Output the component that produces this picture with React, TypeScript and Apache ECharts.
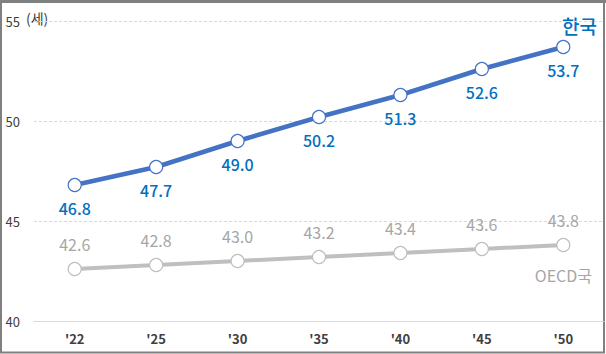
import React, { useEffect, useRef } from "react";
import * as echarts from "echarts";

const categories = ["'22", "'25", "'30", "'35", "'40", "'45", "'50"];
const korea = [46.8, 47.7, 49.0, 50.2, 51.3, 52.6, 53.7];
const oecd = [42.6, 42.8, 43.0, 43.2, 43.4, 43.6, 43.8];
const yTicks = { min: 40, max: 55, interval: 5 };
const koreaName = "한국";
const oecdName = "OECD국";
const unitLabel = "(세)";

const FONT = "'Noto Sans CJK KR', 'Noto Sans', sans-serif";

export default function App() {
  const ref = useRef<HTMLDivElement>(null);
  useEffect(() => {
    document.body.style.margin = "0";
    const chart = echarts.init(ref.current!, null, { renderer: "svg" });
    chart.setOption({
      animation: false,
      backgroundColor: "#ffffff",
      textStyle: { fontFamily: FONT },
      grid: { left: 34, right: 2, top: 21, bottom: 33 },
      xAxis: {
        type: "category",
        data: categories,
        boundaryGap: true,
        axisLine: { show: true, lineStyle: { color: "#D9D9D9", width: 1 } },
        axisTick: { show: false },
        axisLabel: { color: "#404040", fontSize: 13, fontWeight: "bold", margin: 11, fontFamily: FONT },
        splitLine: { show: false },
      },
      yAxis: {
        type: "value",
        min: yTicks.min,
        max: yTicks.max,
        interval: yTicks.interval,
        axisLine: { show: false },
        axisTick: { show: false },
        axisLabel: { color: "#404040", fontSize: 13, margin: 14, fontFamily: FONT },
        splitLine: { show: true, lineStyle: { color: "#D9D9D9", type: [3, 2], width: 1 } },
      },
      series: [
        {
          name: oecdName,
          type: "line",
          data: oecd,
          symbol: "circle",
          symbolSize: 13,
          lineStyle: { color: "#BFBFBF", width: 4 },
          itemStyle: { color: "#ffffff", borderColor: "#BFBFBF", borderWidth: 1.2 },
          label: {
            show: true,
            position: "top",
            distance: 10,
            color: "#A6A6A6",
            fontSize: 16,
            fontFamily: FONT,
            formatter: (p: any) => p.value.toFixed(1),
          },
          z: 2,
        },
        {
          name: koreaName,
          type: "line",
          data: korea,
          symbol: "circle",
          symbolSize: 13,
          lineStyle: { color: "#4472C4", width: 4.5 },
          itemStyle: { color: "#ffffff", borderColor: "#4472C4", borderWidth: 1.2 },
          label: {
            show: true,
            position: "bottom",
            distance: 8,
            color: "#0070C0",
            fontSize: 16,
            fontWeight: 500,
            fontFamily: FONT,
            formatter: (p: any) => p.value.toFixed(1),
          },
          z: 3,
        },
      ],
      graphic: [
        {
          type: "text",
          left: 26,
          top: 11,
          style: { text: unitLabel, fill: "#404040", font: `14px ${FONT}` },
        },
        {
          type: "text",
          right: 9,
          top: 16,
          style: { text: koreaName, fill: "#0070C0", font: `500 19px ${FONT}` },
        },
        {
          type: "text",
          right: 14,
          top: 267,
          style: { text: oecdName, fill: "#A6A6A6", font: `16px ${FONT}` },
        },
        {
          type: "rect",
          shape: { x: 1, y: 1.5, width: 603, height: 351 },
          style: { fill: "none", stroke: "#808080", lineWidth: 2 },
          silent: true,
        },
        {
          type: "rect",
          shape: { x: 0, y: 0, width: 606, height: 3 },
          style: { fill: "#808080" },
          silent: true,
        },
      ],
    });
    return () => chart.dispose();
  }, []);
  return <div ref={ref} style={{ width: 606, height: 354 }} />;
}
